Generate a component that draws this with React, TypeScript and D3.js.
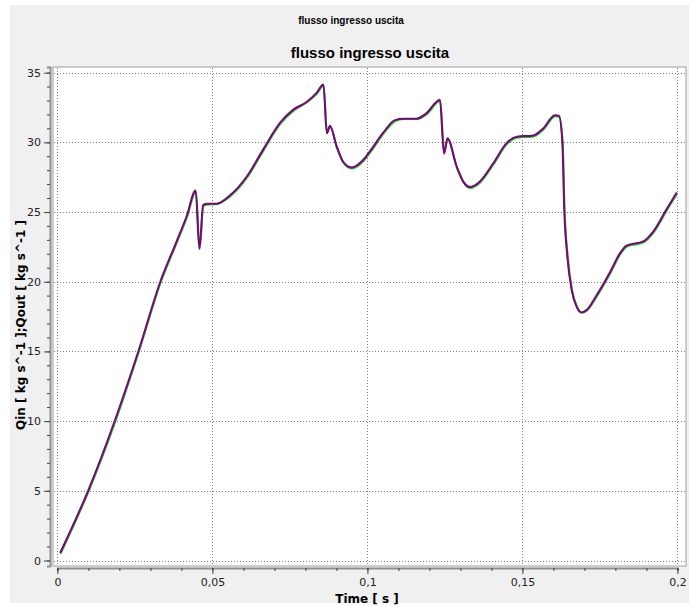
import React, { useEffect, useRef } from "react";
import * as d3 from "d3";

const title = "flusso ingresso uscita";
const xTitle = "Time [ s ]";
const yTitle = "Qin [ kg s^-1 ];Qout [ kg s^-1 ]";

// time samples [s]
const time = [
  0.0009, 0.01, 0.0186, 0.0261, 0.0336, 0.0379, 0.0417, 0.0446, 0.0458, 0.047,
  0.0481, 0.0514, 0.0557, 0.0611, 0.0664, 0.0718, 0.0761, 0.0804, 0.0836, 0.0858,
  0.0869, 0.0879, 0.0901, 0.0922, 0.0949, 0.0987, 0.1008, 0.1051, 0.1089, 0.1116,
  0.1159, 0.1191, 0.1234, 0.1247, 0.1258, 0.1288, 0.1309, 0.1331, 0.1363, 0.1406,
  0.1449, 0.1482, 0.1535, 0.1567, 0.1605, 0.1618, 0.1629, 0.1635, 0.1645, 0.1659,
  0.1675, 0.1691, 0.1707, 0.174, 0.1783, 0.1815, 0.1836, 0.189, 0.1922, 0.1965,
  0.1998,
];

// Qin [kg/s]
const qin = [
  0.5, 5.0, 10.0, 14.95, 20.2, 22.55, 24.65, 26.5, 22.4, 25.45,
  25.55, 25.6, 26.15, 27.5, 29.45, 31.35, 32.3, 32.9, 33.5, 34.1,
  30.7, 31.15, 29.65, 28.55, 28.15, 28.7, 29.3, 30.65, 31.55, 31.7,
  31.7, 32.05, 33.0, 29.25, 30.25, 28.2, 27.15, 26.75, 27.15, 28.45,
  29.9, 30.35, 30.45, 30.95, 31.9, 31.85, 30.0, 25.3, 21.9, 19.45,
  18.25, 17.8, 17.95, 19.0, 20.65, 22.0, 22.55, 22.85, 23.55, 25.15,
  26.35,
];

// Qout [kg/s]
const qout = [
  0.55, 5.05, 10.08, 15.0, 20.25, 22.6, 24.7, 26.55, 22.35, 25.5,
  25.6, 25.6, 26.2, 27.55, 29.5, 31.4, 32.35, 32.9, 33.55, 34.15,
  30.65, 31.2, 29.7, 28.6, 28.2, 28.75, 29.35, 30.7, 31.6, 31.7,
  31.7, 32.1, 33.06, 29.2, 30.3, 28.27, 27.2, 26.8, 27.2, 28.5,
  29.95, 30.4, 30.5, 31.0, 31.95, 31.9, 29.95, 25.2, 21.8, 19.4,
  18.2, 17.8, 17.97, 19.05, 20.7, 22.05, 22.6, 22.9, 23.6, 25.2,
  26.4,
];

const xTicks = [0, 0.05, 0.1, 0.15, 0.2];
const yTicks = [0, 5, 10, 15, 20, 25, 30, 35];

const W = 689;
const H = 606;

const App = () => {
  const ref = useRef<SVGSVGElement | null>(null);

  useEffect(() => {
    const svg = d3.select(ref.current);
    svg.selectAll("*").remove();

    // canvas box
    const canvas = { left: 53, right: 686, top: 67, bottom: 566 };

    const x = d3.scaleLinear().domain([0, 0.2]).range([57.4, 677.4]);
    const y = d3.scaleLinear().domain([0, 35]).range([560.5, 72.7]);

    // background panel
    svg.append("rect").attr("width", W).attr("height", H).attr("fill", "#fff");
    svg
      .append("rect")
      .attr("x", 10)
      .attr("y", 5)
      .attr("width", W - 10)
      .attr("height", 598)
      .attr("fill", "#f0f0f0");

    svg
      .append("text")
      .attr("x", 351)
      .attr("y", 24)
      .attr("text-anchor", "middle")
      .style("font", "bold 10px 'Liberation Sans', Arial, sans-serif")
      .attr("fill", "#000")
      .text(title);

    svg
      .append("text")
      .attr("x", 370)
      .attr("y", 58)
      .attr("text-anchor", "middle")
      .style("font", "bold 15px 'Liberation Sans', Arial, sans-serif")
      .attr("fill", "#000")
      .text(title);

    svg
      .append("rect")
      .attr("x", canvas.left)
      .attr("y", canvas.top)
      .attr("width", canvas.right - canvas.left)
      .attr("height", canvas.bottom - canvas.top)
      .attr("fill", "#fff")
      .attr("stroke", "#a0a0a0");

    // dotted grid
    const grid = svg.append("g").attr("stroke", "#808080").attr("stroke-dasharray", "1,2");
    grid
      .selectAll("line.gx")
      .data(xTicks)
      .join("line")
      .attr("x1", (d) => Math.round(x(d)) + 0.5)
      .attr("x2", (d) => Math.round(x(d)) + 0.5)
      .attr("y1", canvas.top + 1)
      .attr("y2", canvas.bottom - 1);
    grid
      .selectAll("line.gy")
      .data(yTicks)
      .join("line")
      .attr("y1", (d) => Math.round(y(d)) + 0.5)
      .attr("y2", (d) => Math.round(y(d)) + 0.5)
      .attr("x1", canvas.left + 1)
      .attr("x2", canvas.right - 1);

    // curves
    const line = d3
      .line<number>()
      .x((_, i) => x(time[i]))
      .y((d) => y(d))
      .curve(d3.curveMonotoneX);

    svg
      .append("path")
      .datum(qin)
      .attr("fill", "none")
      .attr("stroke", "#00e000")
      .attr("stroke-width", 2)
      .attr("transform", "translate(0.3,0.3)")
      .attr("d", line);

    svg
      .append("path")
      .datum(qout)
      .attr("fill", "none")
      .attr("stroke", "#800080")
      .attr("stroke-width", 2)
      .attr("d", line);

    const tickFont = "11px 'DejaVu Sans', Verdana, sans-serif";

    // y axis
    const yAxis = svg
      .append("g")
      .attr("transform", "translate(50,0)")
      .call(
        d3
          .axisLeft(y.copy().domain([-0.4, 35.4]).range([566, 67]))
          .tickValues(d3.range(0, 36, 1))
          .tickSize(3)
          .tickFormat(() => "")
      );
    yAxis.select(".domain").attr("stroke", "#909090").attr("stroke-width", 2);
    yAxis.selectAll(".tick line").attr("stroke", "#404040");

    const yMajor = svg
      .append("g")
      .attr("transform", "translate(50,0)")
      .call(
        d3
          .axisLeft(y)
          .tickValues(yTicks)
          .tickSize(6)
          .tickPadding(3)
      );
    yMajor.select(".domain").remove();
    yMajor.selectAll(".tick line").attr("stroke", "#404040");
    yMajor.selectAll(".tick text").style("font", tickFont).attr("fill", "#222");

    // x axis
    const xAxis = svg
      .append("g")
      .attr("transform", "translate(0,568)")
      .call(
        d3
          .axisBottom(x)
          .tickValues(d3.range(0, 21).map((i) => i / 100))
          .tickSize(3)
          .tickFormat(() => "")
      );
    xAxis.select(".domain").attr("stroke", "#909090").attr("stroke-width", 2);
    xAxis.selectAll(".tick line").attr("stroke", "#404040");

    const xMajor = svg
      .append("g")
      .attr("transform", "translate(0,568)")
      .call(
        d3
          .axisBottom(x)
          .tickValues(xTicks)
          .tickSize(6)
          .tickPadding(4)
          .tickFormat((d) => String(+(+d).toFixed(2)).replace(".", ","))
      );
    xMajor.select(".domain").remove();
    xMajor.selectAll(".tick line").attr("stroke", "#404040");
    xMajor.selectAll(".tick text").style("font", tickFont).attr("fill", "#222");

    // axis titles
    svg
      .append("text")
      .attr("x", 367)
      .attr("y", 603)
      .attr("text-anchor", "middle")
      .style("font", "bold 12px 'DejaVu Sans', Verdana, sans-serif")
      .attr("fill", "#000")
      .text(xTitle);

    svg
      .append("text")
      .attr("transform", "translate(25,325) rotate(-90)")
      .attr("text-anchor", "middle")
      .style("font", "bold 12px 'DejaVu Sans', Verdana, sans-serif")
      .attr("fill", "#000")
      .text(yTitle);
  }, []);

  return (
    <svg
      ref={ref}
      width={W}
      height={H}
      style={{ position: "absolute", left: 0, top: 0, display: "block" }}
    />
  );
};

export default App;
